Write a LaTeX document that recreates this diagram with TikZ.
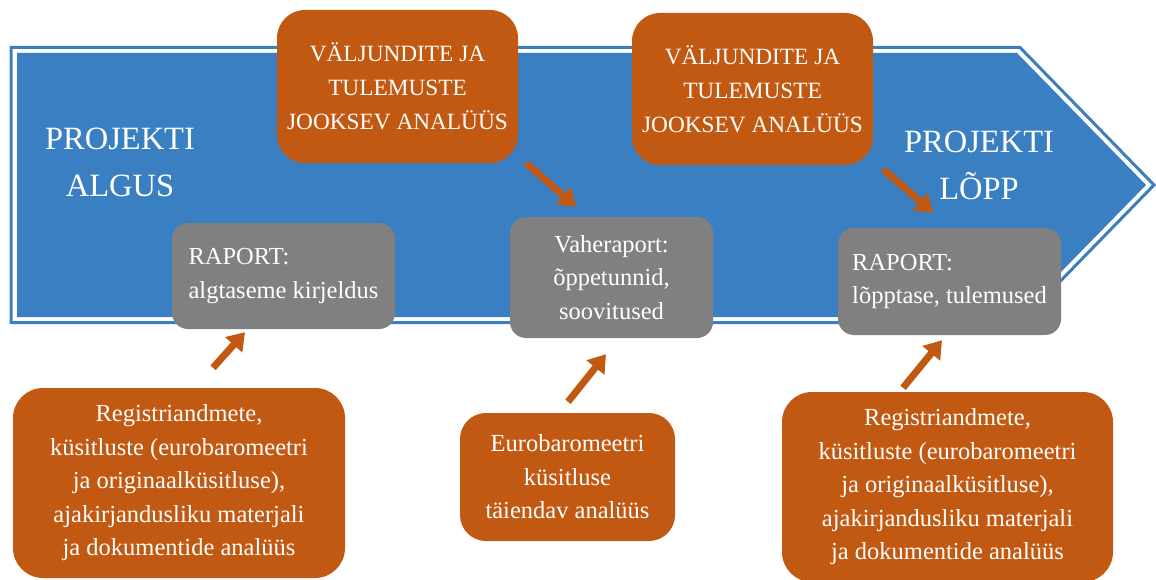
\documentclass[tikz,border=0pt]{standalone}
\usepackage{fontspec}
\setmainfont{Liberation Serif}
\usetikzlibrary{arrows.meta}
\definecolor{arrowblue}{RGB}{58,127,193}
\definecolor{burnt}{RGB}{194,89,18}
\definecolor{slate}{RGB}{128,128,128}

\begin{document}
\begin{tikzpicture}[x=1pt, y=-1pt,
    every node/.style={text=white, font=\fontsize{24.5}{33.5}\selectfont},
    orangebox/.style={fill=burnt, rounded corners=28pt, align=center},
    graybox/.style={fill=slate, rounded corners=16pt, align=left},
    flow/.style={draw=burnt, line width=7pt, -{Triangle[length=17pt, width=22pt]}}]
    \useasboundingbox (0,0) rectangle (1156,580);
    \clip (0,0) rectangle (1156,580);
    % Big blue arrow
    \fill[arrowblue] (17,53) -- (1017,53) -- (1146,185) -- (1017,317) -- (17,317) -- cycle;
    \draw[arrowblue, line width=3pt] (11,47.5) -- (1020,47.5) -- (1154,185) -- (1020,322.5) -- (11,322.5) -- cycle;
    \node[font=\fontsize{32.5}{47}\selectfont, align=center] (algus) at (120,162) {PROJEKTI\\ALGUS};
    \node[font=\fontsize{32.5}{47}\selectfont, align=center] (lopp) at (979,165) {PROJEKTI\\LÕPP};
    % Running analysis boxes on top
    \node[orangebox, font=\fontsize{23.3}{34}\selectfont, minimum width=241, minimum height=153] (run1) at (397.5,86.5) {VÄLJUNDITE JA\\TULEMUSTE\\JOOKSEV ANALÜÜS};
    \node[orangebox, font=\fontsize{23.3}{34}\selectfont, minimum width=241, minimum height=152] (run2) at (752.5,89) {VÄLJUNDITE JA\\TULEMUSTE\\JOOKSEV ANALÜÜS};
    % Reports
    \node[graybox, minimum width=223, minimum height=106] (rep1) at (283.5,276) {RAPORT:\\algtaseme kirjeldus};
    \node[graybox, align=center, minimum width=203, minimum height=121] (rep2) at (611.5,277.5) {Vaheraport:\\õppetunnid,\\soovitused};
    \node[graybox, minimum width=223, minimum height=107] (rep3) at (949.5,281.5) {RAPORT:\\lõpptase, tulemused};
    % Data analysis boxes below
    \node[orangebox, rounded corners=30pt, minimum width=332, minimum height=190] (data1) at (179,483) {Registriandmete,\\küsitluste (eurobaromeetri\\ja originaalküsitluse),\\ajakirjandusliku materjali\\ja dokumentide analüüs};
    \node[orangebox, rounded corners=26pt, minimum width=215, minimum height=128] (data2) at (567.5,477) {Eurobaromeetri\\küsitluse\\täiendav analüüs};
    \node[orangebox, rounded corners=30pt, minimum width=331, minimum height=190] (data3) at (947.5,487) {Registriandmete,\\küsitluste (eurobaromeetri\\ja originaalküsitluse),\\ajakirjandusliku materjali\\ja dokumentide analüüs};
    % Arrows
    \draw[flow] ([xshift=8pt]run1.south east) -- ([xshift=-35.5pt, yshift=10pt]rep2.north);
    \draw[flow] ([xshift=10pt, yshift=-4pt]run2.south east) -- ([xshift=-16.5pt, yshift=15pt]rep3.north);
    \draw[flow] ([xshift=34pt, yshift=20pt]data1.north) -- ([xshift=-38.5pt, yshift=-3pt]rep1.south);
    \draw[flow] ([xshift=0.5pt, yshift=11pt]data2.north) -- ([xshift=-5.5pt, yshift=-16pt]rep2.south);
    \draw[flow] ([xshift=-44.5pt, yshift=4pt]data3.north) -- ([xshift=-7.5pt, yshift=-5pt]rep3.south);
\end{tikzpicture}
\end{document}
